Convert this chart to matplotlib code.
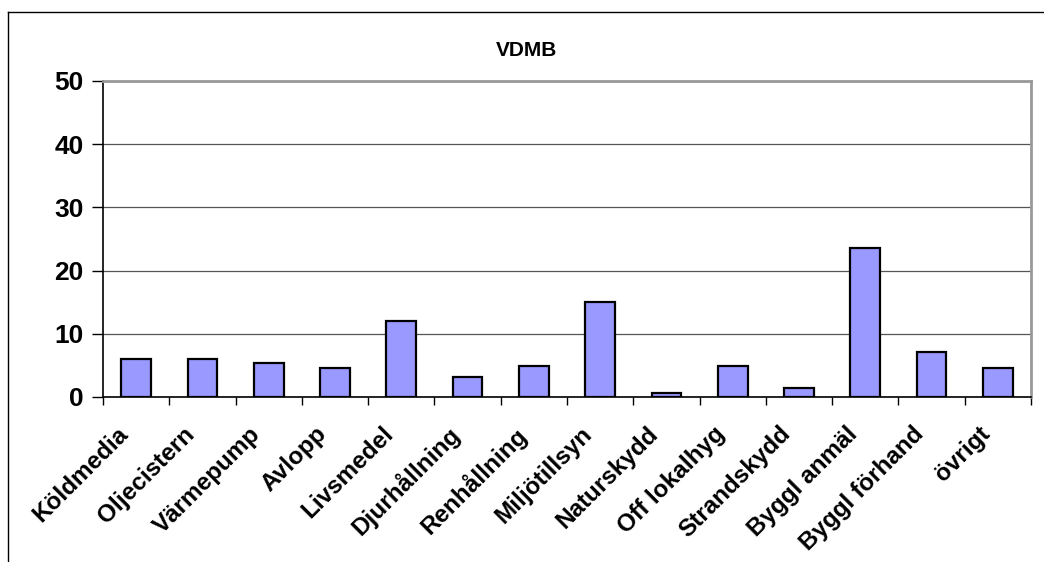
import matplotlib.pyplot as plt
from matplotlib.lines import Line2D
import numpy as np

plt.rcParams['font.family'] = ['Liberation Sans', 'DejaVu Sans']

categories = ["Köldmedia", "Oljecistern", "Värmepump", "Avlopp", "Livsmedel",
              "Djurhållning", "Renhållning", "Miljötillsyn", "Naturskydd",
              "Off lokalhyg", "Strandskydd", "Byggl anmäl", "Byggl förhand", "övrigt"]
values = [6.0, 6.0, 5.4, 4.6, 12.1, 3.2, 4.9, 15.0, 0.7, 4.9, 1.4, 23.6, 7.1, 4.6]
yticks = [0, 10, 20, 30, 40, 50]

W, H = 1044, 562
fig = plt.figure(figsize=(W / 100, H / 100), dpi=100)
ax = fig.add_axes([103 / W, 1 - 397 / H, (1031 - 103) / W, (397 - 81) / H])

x = np.arange(len(categories))
ax.bar(x, values, width=0.45, color="#9999FF", edgecolor="black", linewidth=1.6, zorder=3)

ax.set_xlim(-0.5, len(categories) - 0.5)
ax.set_ylim(0, 50)
ax.set_yticks(yticks)
ax.set_yticklabels([str(t) for t in yticks], fontsize=19, fontweight="bold")
ax.yaxis.grid(True, color="#555555", linewidth=0.9, zorder=0)

# category boundaries as ticks, labels at centres
ax.set_xticks(np.arange(len(categories) + 1) - 0.5)
ax.set_xticklabels([])
ax.tick_params(axis="x", direction="out", length=6, width=1)
ax.tick_params(axis="y", direction="out", length=8, width=1, pad=6)
for i, lab in enumerate(categories):
    ax.text(i - 0.3, -4.0, lab, rotation=45, ha="right", va="top", rotation_mode="anchor",
            fontsize=17.5, fontweight="bold")

for s in ["left", "bottom"]:
    ax.spines[s].set_color("black")
    ax.spines[s].set_linewidth(1.2)
for s in ["top", "right"]:
    ax.spines[s].set_color("#999999")
    ax.spines[s].set_linewidth(2)

fig.text(527 / W, 1 - 50 / H, "VDMB", ha="center", va="center",
         fontsize=15, fontweight="bold")

# outer chart border (cropped at right and bottom)
bx, by = 8 / W, 1 - 12 / H
fig.add_artist(Line2D([bx, 1], [by, by], color="black", linewidth=1))
fig.add_artist(Line2D([bx, bx], [0, by], color="black", linewidth=1))

fig.savefig("out.png", dpi=100)
